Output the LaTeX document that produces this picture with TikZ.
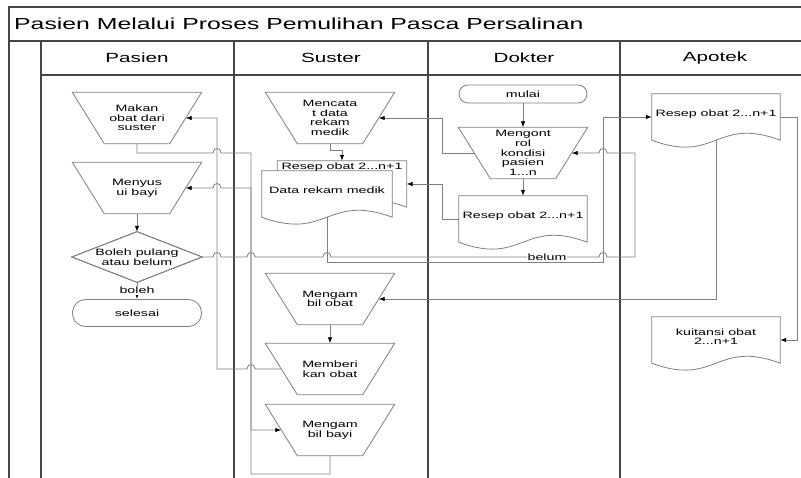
\documentclass[tikz,border=0pt]{standalone}
\usepackage{fontspec}
\setmainfont{Liberation Sans}[FakeStretch=1.55]
\usepackage{tikz}
\usetikzlibrary{arrows.meta,calc,backgrounds}

\definecolor{framegray}{HTML}{454545}
\definecolor{linegray}{HTML}{7F7F7F}

\tikzset{
  lane/.style={draw=framegray, line width=1.1pt},
  shapeline/.style={draw=linegray, line width=0.8pt, fill=white},
  box/.style={inner sep=0pt, align=center, font=\fontsize{9.2}{9.6}\selectfont},
  opbox/.style={box, minimum width=97pt, minimum height=51pt},
  docbox/.style={box, minimum width=128pt, minimum height=46pt, text depth=7pt},
  term/.style={box, draw=linegray, line width=0.8pt, rounded corners=9pt,
    minimum width=128pt, minimum height=18pt},
  lbl/.style={box, fill=white, inner sep=1pt},
  head/.style={inner sep=0pt, font=\fontsize{13.3}{16}\selectfont},
  flow/.style={draw=linegray, line width=0.8pt, -{Latex[length=6pt,width=4.5pt,color=black]}},
}

% trapezium drawn round an invisible box
\newcommand{\manop}[1]{%
  \draw[shapeline] ([xshift=-16pt]#1.north west) -- ([xshift=16pt]#1.north east)
    -- ([xshift=-16pt]#1.south east) -- ([xshift=16pt]#1.south west) -- cycle;}
% document with wavy bottom
\newcommand{\docshape}[1]{%
  \draw[shapeline] (#1.north west) -- (#1.south west)
    .. controls ($(#1.south)+(0,24)$) and ($(#1.south)+(0,-24)$) .. (#1.south east)
    -- (#1.north east) -- cycle;}
% line jumps
\newcommand{\hopR}[2]{-- (#1-4,#2) .. controls (#1-4,#2-6) and (#1+4,#2-6) .. (#1+4,#2)}
\newcommand{\hopL}[2]{-- (#1+4,#2) .. controls (#1+4,#2-6) and (#1-4,#2-6) .. (#1-4,#2)}

\begin{document}
\begin{tikzpicture}[x=1pt, y=-1pt]
\useasboundingbox (0,0) rectangle (801,478);
%
\draw[lane] (801,7) -- (9,7) -- (9,478);
\draw[lane] (9,41) -- (801,41);
\draw[lane] (41,75) -- (801,75);
\foreach \x in {41,234,428,620} \draw[lane] (\x,41) -- (\x,478);
\node[inner sep=0pt, anchor=west, font=\fontsize{16}{19}\selectfont] (judul) at (14,24)
  {Pasien Melalui Proses Pemulihan Pasca Persalinan};
\node[head] (hpasien) at (137,58) {Pasien};
\node[head] (hsuster) at (331,58) {Suster};
\node[head] (hdokter) at (524,58) {Dokter};
\node[head] (hapotek) at (715,58) {Apotek};
%
% Pasien
\node[opbox] (makan) at (137,118) {Makan\\obat dari\\suster};
\node[opbox] (menyusui) at (137,188) {Menyus\\ui bayi};
\node[box, minimum width=129pt, minimum height=50pt] (pulang) at (137,257) {Boleh pulang\\atau belum};
\node[term, minimum width=129pt, minimum height=27pt, rounded corners=13pt] (selesai) at (137,313) {selesai};
%
% Suster
\node[opbox] (mencatat) at (330,118) {Mencata\\t data\\rekam\\medik};
\node[docbox, minimum width=129pt,
  label={[box, anchor=north, yshift=-1.5pt]north:Resep obat 2...n+1}] (resepS) at (342,184) {};
\node[docbox, minimum width=130pt] (rekam) at (327,194) {Data rekam medik};
\node[opbox] (ambilobat) at (330,299) {Mengam\\bil obat};
\node[opbox] (memberi) at (330,369) {Memberi\\kan obat};
\node[opbox] (ambilbayi) at (330,430) {Mengam\\bil bayi};
%
% Dokter
\node[term] (mulai) at (523,94) {mulai};
\node[opbox] (mengontrol) at (523,153) {Mengont\\rol\\kondisi\\pasien\\1...n};
\node[docbox] (resepD) at (523,219) {Resep obat 2...n+1};
%
% Apotek
\node[docbox] (resepA) at (716,117) {Resep obat 2...n+1};
\node[docbox] (kuitansi) at (716,340) {kuitansi obat\\2...n+1};
%
\begin{pgfonlayer}{background}
\foreach \n in {makan,menyusui,mencatat,ambilobat,memberi,ambilbayi,mengontrol} \manop{\n}
\draw[shapeline] (pulang.north) -- (pulang.east) -- (pulang.south) -- (pulang.west) -- cycle;
\docshape{resepS}
\docshape{rekam}
\docshape{resepD}
\docshape{resepA}
\docshape{kuitansi}
\end{pgfonlayer}
%
\draw[flow] (mulai.south) -- (mengontrol.north);
\draw[flow] (mengontrol.south) -- (resepD.north);
\draw[flow] (mengontrol.west) -- (442,153) |- (mencatat.east);
\draw[flow] (resepD.west) -- (442,219) |- (resepS.east);
\draw[flow] (mencatat.south) -- (330,150) -| (resepS.north);
\draw[flow] (rekam.south) |- (603,262) |- (resepA.west);
\draw[flow] (resepA.east) -- (797,117) |- (kuitansi.east);
\draw[flow] (resepA.south) |- (ambilobat.east);
\draw[flow] (ambilobat.south) -- (memberi.north);
\draw[flow] (memberi.west) \hopL{251}{369} -- (217,369) |- (makan.east);
\draw[flow] (makan.south) -- (137,153) \hopR{217}{153} -- (251,153) |- (ambilbayi.west);
\draw[flow] (ambilbayi.south) |- (251,474) -- (251,188) \hopL{217}{188} -- (menyusui.east);
\draw[flow] (menyusui.south) -- (pulang.north);
\draw[flow] (pulang.south) -- node[lbl] (boleh) {boleh} (selesai.north);
\draw[flow] (pulang.east) \hopR{217}{257} \hopR{251}{257} \hopR{327}{257} \hopR{603}{257}
  -- (635,257) -- (635,153) \hopL{603}{153} -- (mengontrol.east);
\node[lbl] (belum) at (547,257) {belum};
\end{tikzpicture}
\end{document}
